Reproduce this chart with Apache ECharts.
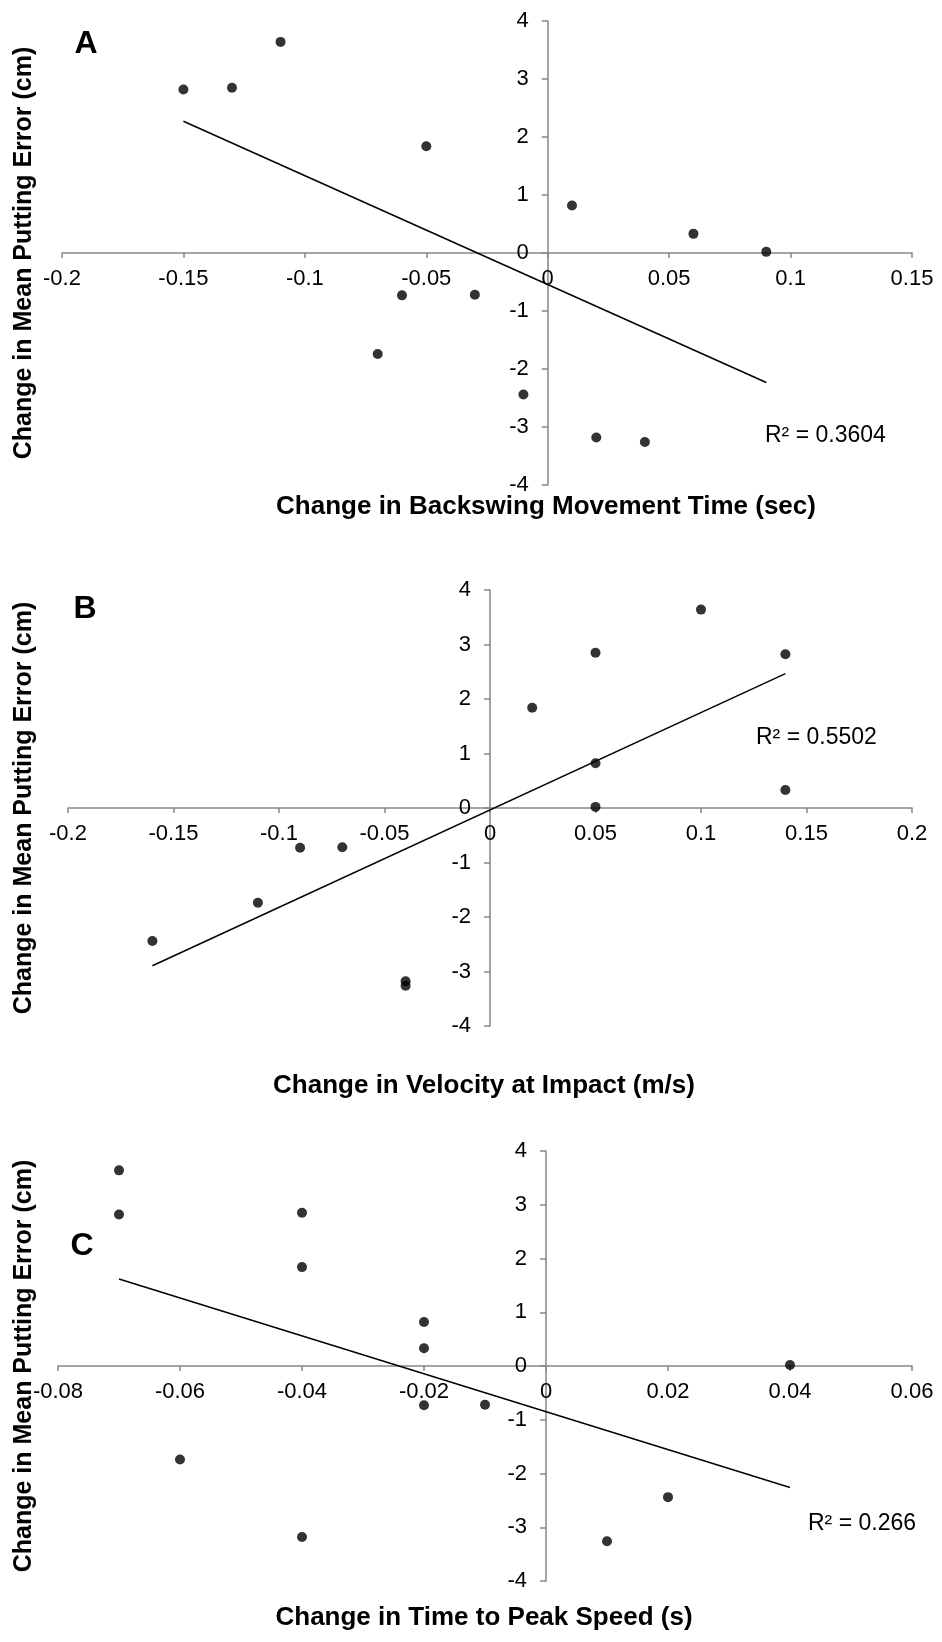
<!DOCTYPE html>
<html>
<head>
<meta charset="utf-8">
<script src="https://cdn.jsdelivr.net/npm/echarts@6/dist/echarts.min.js"></script>
<style>
  html, body { margin: 0; padding: 0; background: #fff; }
  #chart { width: 942px; height: 1642px; }
</style>
</head>
<body>
<div id="chart"></div>
<script>
// Change in mean putting error (cm), one value per participant
const puttingError = [3.64, 2.85, 2.82, 1.84, 0.82, 0.33, 0.02, -0.72, -0.73, -1.74, -2.44, -3.18, -3.26];
// Predictors, same participant order
const backswingTime = [-0.11, -0.13, -0.15, -0.05, 0.01, 0.06, 0.09, -0.03, -0.06, -0.07, -0.01, 0.02, 0.04];
const impactVelocity = [0.10, 0.05, 0.14, 0.02, 0.05, 0.14, 0.05, -0.07, -0.09, -0.11, -0.16, -0.04, -0.04];
const peakSpeedTime = [-0.07, -0.04, -0.07, -0.04, -0.02, -0.02, 0.04, -0.01, -0.02, -0.06, 0.02, -0.04, 0.01];

const panelLetters = ['A', 'B', 'C'];
const xTitles = [
  'Change in Backswing Movement Time (sec)',
  'Change in Velocity at Impact (m/s)',
  'Change in Time to Peak Speed (s)'
];
const yTitle = 'Change in Mean Putting Error (cm)';
const r2Labels = ['R\u00b2 = 0.3604', 'R\u00b2 = 0.5502', 'R\u00b2 = 0.266'];
const xRanges = [[-0.2, 0.15, 0.05], [-0.2, 0.2, 0.05], [-0.08, 0.06, 0.02]];
const yRange = [-4, 4, 1];

const predictors = [backswingTime, impactVelocity, peakSpeedTime];

const FONT = '"Liberation Sans", Arial, sans-serif';
const AXIS_COLOR = '#868686';

// Panel geometry (pixels)
const panels = [
  { left: 62, top: 21, width: 850, height: 464, xTitleX: 546, xTitleY: 507, letter: [86, 44], r2: [765, 436] },
  { left: 68, top: 590, width: 844, height: 436, xTitleX: 484, xTitleY: 1086, letter: [85, 609], r2: [756, 738] },
  { left: 58, top: 1151, width: 854, height: 430, xTitleX: 484, xTitleY: 1618, letter: [82, 1246], r2: [808, 1524] }
];

// Least-squares fit drawn across the observed x range
function linearFit(xs, ys) {
  const n = xs.length;
  const mx = xs.reduce((a, b) => a + b, 0) / n;
  const my = ys.reduce((a, b) => a + b, 0) / n;
  let sxy = 0, sxx = 0;
  for (let i = 0; i < n; i++) {
    sxy += (xs[i] - mx) * (ys[i] - my);
    sxx += (xs[i] - mx) * (xs[i] - mx);
  }
  const slope = sxy / sxx;
  const icpt = my - slope * mx;
  const x0 = Math.min(...xs), x1 = Math.max(...xs);
  return [[x0, icpt + slope * x0], [x1, icpt + slope * x1]];
}

const grid = [], xAxis = [], yAxis = [], series = [], graphic = [];

panels.forEach((p, i) => {
  grid.push({ left: p.left, top: p.top, width: p.width, height: p.height });
  xAxis.push({
    type: 'value', gridIndex: i,
    min: xRanges[i][0], max: xRanges[i][1], interval: xRanges[i][2],
    axisLine: { onZero: false, lineStyle: { color: AXIS_COLOR, width: 1.5 } },
    axisTick: { show: true, length: 5, lineStyle: { color: AXIS_COLOR, width: 1.5 } },
    axisLabel: { color: '#000', fontFamily: FONT, fontSize: 22, margin: 15 },
    splitLine: { show: false }
  });
  yAxis.push({
    type: 'value', gridIndex: i,
    min: yRange[0], max: yRange[1], interval: yRange[2],
    axisLine: { onZero: false, lineStyle: { color: AXIS_COLOR, width: 1.5 } },
    axisTick: { show: true, length: 6, lineStyle: { color: AXIS_COLOR, width: 1.5 } },
    axisLabel: { color: '#000', fontFamily: FONT, fontSize: 22, margin: 19 },
    splitLine: { show: false }
  });
  const xs = predictors[i];
  series.push({
    type: 'scatter', xAxisIndex: i, yAxisIndex: i,
    symbol: 'circle', symbolSize: 10,
    itemStyle: { color: '#000' },
    data: xs.map((x, k) => [x, puttingError[k]])
  });
  series.push({
    type: 'line', xAxisIndex: i, yAxisIndex: i,
    symbol: 'none', silent: true,
    lineStyle: { color: '#000', width: 1.5 },
    data: linearFit(xs, puttingError)
  });

  graphic.push({
    type: 'text', x: p.letter[0], y: p.letter[1],
    style: { text: panelLetters[i], font: 'bold 32px ' + FONT, fill: '#000',
             align: 'center', verticalAlign: 'middle' }
  });
  graphic.push({
    type: 'text', x: p.xTitleX, y: p.xTitleY,
    style: { text: xTitles[i], font: 'bold 26px ' + FONT, fill: '#000',
             align: 'center', verticalAlign: 'middle' }
  });
  graphic.push({
    type: 'text', x: 24, y: p.top + p.height / 2, rotation: Math.PI / 2,
    style: { text: yTitle, font: 'bold 25px ' + FONT, fill: '#000',
             align: 'center', verticalAlign: 'middle' }
  });
  graphic.push({
    type: 'text', x: p.r2[0], y: p.r2[1],
    style: { text: r2Labels[i], font: '23px ' + FONT, fill: '#000',
             align: 'left', verticalAlign: 'middle' }
  });
});

const chart = echarts.init(document.getElementById('chart'), null, { renderer: 'canvas' });
chart.setOption({
  animation: false,
  backgroundColor: '#fff',
  grid, xAxis, yAxis, series, graphic
});

// Move each pair of axes so they cross at the origin, labels included
chart.setOption({
  xAxis: panels.map((p, i) => {
    const origin = chart.convertToPixel({ gridIndex: i }, [0, 0]);
    return { offset: origin[1] - (p.top + p.height) };
  }),
  yAxis: panels.map((p, i) => {
    const origin = chart.convertToPixel({ gridIndex: i }, [0, 0]);
    return { offset: p.left - origin[0] };
  })
});
</script>
</body>
</html>
